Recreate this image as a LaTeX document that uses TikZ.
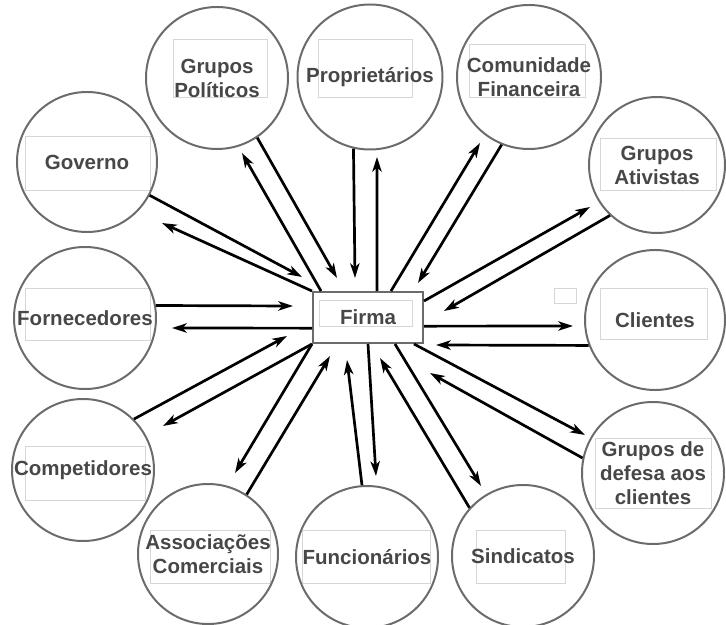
\documentclass[tikz,border=0pt]{standalone}
\usepackage{fontspec}
\setmainfont{Liberation Sans}
\usepackage{tikz}
\usetikzlibrary{arrows.meta}

\begin{document}
\begin{tikzpicture}[
  x=0.03cm, y=-0.03cm,
  font=\fontsize{17.5}{20.5}\selectfont\bfseries,
  party/.style={draw=black!58, line width=1.7pt, circle, inner sep=0pt,
                minimum size=4.26cm, align=center, text=black!72},
  firmbox/.style={draw=black!58, line width=1.7pt, minimum width=3.3cm,
                  minimum height=1.53cm, inner sep=0pt, text=black!72},
  ghost/.style={draw=black!16, line width=0.4pt},
  arr/.style={line width=2.3pt, -{Stealth[length=4.4mm, width=2.8mm, inset=1.2mm]}},
]
\useasboundingbox (0,0) rectangle (726,625);

% faint boxes left around the labels
\draw[ghost] (25,136) rectangle (150,190);
\draw[ghost] (173,39) rectangle (267,97);
\draw[ghost] (318,39) rectangle (412,97);
\draw[ghost] (469,44) rectangle (585,97);
\draw[ghost] (600,138) rectangle (716,190);
\draw[ghost] (600,288) rectangle (707,339);
\draw[ghost] (554,288) rectangle (576,303);
\draw[ghost] (595,438) rectangle (711,508);
\draw[ghost] (476,530) rectangle (565,583);
\draw[ghost] (302,530) rectangle (430,583);
\draw[ghost] (150,530) rectangle (270,583);
\draw[ghost] (25,446) rectangle (145,500);
\draw[ghost] (25,288) rectangle (150,340);
\draw[ghost] (319,300) rectangle (412,326);

\node[firmbox] (firma) at (368,317.5) {Firma};

\node[party, minimum size=4.2cm] (gov) at (87,162) {Governo};
\node[party] (pol) at (217,78) {Grupos\\Políticos};
\node[party, minimum size=4.35cm] (prop) at (370,77) {Proprietários};
\node[party, minimum size=4.32cm] (fin) at (529,77) {Comunidade\\Financeira};
\node[party, minimum size=4.08cm] (ativ) at (657,165) {Grupos\\Ativistas};
\node[party, minimum size=4.2cm] (cli) at (655,320) {Clientes};
\node[party] (def) at (653,473) {Grupos de\\defesa aos\\clientes};
\node[party] (sind) at (523,556) {Sindicatos};
\node[party] (func) at (367,557) {Funcionários};
\node[party, minimum size=4.2cm] (assoc) at (208,554) {Associações\\Comerciais};
\node[party] (comp) at (83,470) {Competidores};
\node[party] (forn) at (85,318) {Fornecedores};

% free ends of the arrows
\coordinate (gov-in) at (302,277);   \coordinate (gov-out) at (162,223);
\coordinate (pol-in) at (337,278);   \coordinate (pol-out) at (242,153);
\coordinate (prop-in) at (355,278);  \coordinate (prop-out) at (377,157);
\coordinate (fin-in) at (418,283);   \coordinate (fin-out) at (480,143);
\coordinate (ativ-in) at (444,311);  \coordinate (ativ-out) at (590,207);
\coordinate (cli-in) at (436,345);   \coordinate (cli-out) at (573,326);
\coordinate (def-in) at (430,373);   \coordinate (def-out) at (585,435);
\coordinate (sind-in) at (380,358);  \coordinate (sind-out) at (481,486);
\coordinate (func-in) at (347,360);  \coordinate (func-out) at (376,476);
\coordinate (assoc-in) at (330,356); \coordinate (assoc-out) at (235,473);
\coordinate (comp-in) at (287,336);  \coordinate (comp-out) at (163,426);
\coordinate (forn-in) at (293,306);  \coordinate (forn-out) at (172,328);

\draw[arr] (gov.-28) -- (gov-in);
\draw[arr] (firma.north west) -- (gov-out);
\draw[arr] (pol.-56) -- (pol-in);
\draw[arr] ([xshift=0.27cm]firma.north west) -- (pol-out);
\draw[arr] (prop.-103) -- (prop-in);
\draw[arr] ([xshift=0.27cm]firma.north) -- (prop-out);
\draw[arr] (fin.-112) -- (fin-in);
\draw[arr] ([xshift=0.69cm]firma.north) -- (fin-out);
\draw[arr] (ativ.-133) -- (ativ-in);
\draw[arr] ([yshift=-0.3cm]firma.north east) -- (ativ-out);
\draw[arr] (cli.-159) -- (cli-in);
\draw[arr] ([yshift=-0.26cm]firma.east) -- (cli-out);
\draw[arr] (def.168) -- (def-in);
\draw[arr] ([xshift=-0.3cm]firma.south east) -- (def-out);
\draw[arr] (sind.138) -- (sind-in);
\draw[arr] ([xshift=0.81cm]firma.south) -- (sind-out);
\draw[arr] (func.94) -- (func-in);
\draw[arr] (firma.south) -- (func-out);
\draw[arr] (assoc.57) -- (assoc-in);
\draw[arr] (firma.south west) -- (assoc-out);
\draw[arr] (comp.45) -- (comp-in);
\draw[arr] (firma.south west) -- (comp-out);
\draw[arr] (forn.10) -- (forn-in);
\draw[arr] ([yshift=-0.32cm]firma.west) -- (forn-out);

\end{tikzpicture}
\end{document}
